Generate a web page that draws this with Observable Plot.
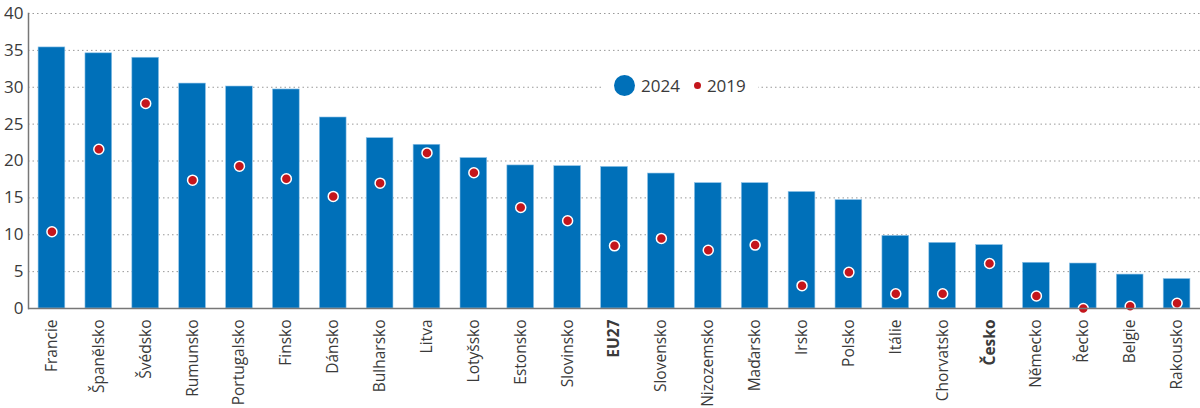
<!DOCTYPE html>
<html>
<head>
<meta charset="utf-8">
<script src="https://cdn.jsdelivr.net/npm/d3@7"></script>
<script src="https://cdn.jsdelivr.net/npm/@observablehq/plot@0.6"></script>
<style>
  body { margin: 0; background: #fff; font-family: "Open Sans", sans-serif; }
  #wrap { position: relative; width: 1200px; height: 408px; }
  #legend { position: absolute; left: 602px; top: 74px; background: #fff; padding: 0px 12px; display: flex; align-items: center; font-size: 17px; color: #3a3a3a; }
  #legend .sw { display: inline-block; border-radius: 50%; }
</style>
</head>
<body>
<div id="wrap">
  <div id="chart"></div>
  <div id="legend">
    <span class="sw" style="width:21px;height:21px;background:#0070b9;margin-right:6px"></span><span>2024</span>
    <span class="sw" style="width:7px;height:7px;background:#c4161c;margin-left:14px;margin-right:6px"></span><span>2019</span>
  </div>
</div>
<script>
const countries = ["Francie","Španělsko","Švédsko","Rumunsko","Portugalsko","Finsko","Dánsko","Bulharsko","Litva","Lotyšsko","Estonsko","Slovinsko","EU27","Slovensko","Nizozemsko","Maďarsko","Irsko","Polsko","Itálie","Chorvatsko","Česko","Německo","Řecko","Belgie","Rakousko"];
const values2024 = [35.4,34.6,34.0,30.5,30.1,29.7,25.9,23.1,22.2,20.4,19.4,19.3,19.2,18.3,17.0,17.0,15.8,14.7,9.85,8.9,8.6,6.2,6.1,4.6,4.0];
const values2019 = [10.4,21.6,27.8,17.4,19.3,17.6,15.2,17.0,21.1,18.4,13.7,11.9,8.5,9.5,7.9,8.6,3.1,4.9,2.0,2.0,6.1,1.7,0.0,0.3,0.7];
const boldLabels = ["EU27","Česko"];
const yTicks = [0,5,10,15,20,25,30,35,40];

const data = countries.map((c, i) => ({country: c, v2024: values2024[i], v2019: values2019[i]}));
const labelOpts = {x: "country", text: "country", frameAnchor: "bottom", dy: 11, rotate: -90, textAnchor: "end", lineAnchor: "middle", fontSize: 15.5, fill: "#3a3a3a"};

const chart = Plot.plot({
  width: 1200,
  height: 408,
  marginLeft: 28,
  marginRight: 0,
  marginTop: 13,
  marginBottom: 100,
  style: {fontFamily: "Open Sans, sans-serif", fontSize: "16px", color: "#3a3a3a", background: "#fff"},
  x: {domain: countries, paddingInner: 0.43, paddingOuter: 0.215, round: false, axis: null},
  y: {domain: [0, 40], ticks: yTicks},
  marks: [
    Plot.gridY(yTicks.filter(t => t > 0), {stroke: "#999", strokeOpacity: 1, strokeDasharray: "1.5,3", strokeWidth: 1}),
    Plot.axisY({ticks: yTicks, tickSize: 0, tickPadding: 5, fontSize: 17, fill: "#3a3a3a", label: null}),
    Plot.barY(data, {x: "country", y: "v2024", fill: "#0070b9", stroke: "#8fc3e8", strokeWidth: 0.6}),
    Plot.dot(data, {x: "country", y: "v2019", r: 5, fill: "#c4161c", stroke: "#fff", strokeWidth: 1.5}),
    Plot.ruleY([0], {stroke: "#777", strokeWidth: 1.5}),
    Plot.frame({anchor: "left", stroke: "#777", strokeWidth: 1.5}),
    Plot.text(data.filter(d => !boldLabels.includes(d.country)), {...labelOpts}),
    Plot.text(data.filter(d => boldLabels.includes(d.country)), {...labelOpts, fontWeight: "bold"})
  ]
});
document.getElementById("chart").appendChild(chart);
</script>
</body>
</html>
